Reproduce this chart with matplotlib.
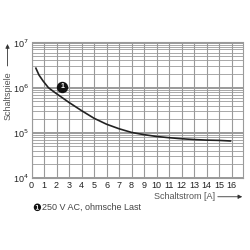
import matplotlib
matplotlib.use('Agg')
import matplotlib.pyplot as plt

plt.rcParams['font.family'] = ['Liberation Sans', 'DejaVu Sans']

# Kurve: Schaltstrom [A] -> Schaltspiele
current = [0.35, 0.6, 0.93, 1.35, 1.87, 3.0, 4.0, 5.0, 6.0, 7.0, 8.0, 9.0,
           10.0, 11.0, 12.0, 13.0, 14.0, 15.0, 15.9]
cycles = [2.7e6, 1.9e6, 1.4e6, 1.0e6, 7.8e5, 4.7e5, 3.1e5, 2.1e5, 1.55e5,
          1.23e5, 1.02e5, 9.1e4, 8.3e4, 7.8e4, 7.4e4, 7.1e4, 6.9e4, 6.8e4,
          6.6e4]

x_ticks = list(range(0, 17))
y_ticks = [1e4, 1e5, 1e6, 1e7]
y_tick_labels = ['10$^4$', '10$^5$', '10$^6$', '10$^7$']

marker_x, marker_y = 2.45, 1.05e6
legend_text = '250 V AC, ohmsche Last'

grid_col = '#9a9a9a'

fig = plt.figure(figsize=(2.5, 2.5), dpi=100)
ax = fig.add_axes([0.126, 0.288, 0.846, 0.542])
ax.set_yscale('log')
ax.set_xlim(0, 16.9)
ax.set_ylim(1e4, 1e7)

ax.set_xticks(x_ticks)
ax.set_xticklabels([str(t) for t in x_ticks], fontsize=6.5, color='#222222')
ax.set_yticks(y_ticks)
ax.set_yticklabels(y_tick_labels, fontsize=6.5, color='#222222')
ax.tick_params(axis='both', length=0, pad=2)
ax.tick_params(axis='y', which='minor', length=0)

ax.grid(True, which='major', axis='x', color=grid_col, lw=0.8)
ax.grid(True, which='major', axis='y', color=grid_col, lw=1.4)
ax.grid(True, which='minor', axis='y', color=grid_col, lw=0.6)
for s in ax.spines.values():
    s.set_color(grid_col)
    s.set_linewidth(0.8)

ax.plot(current, cycles, color='#222222', lw=1.2)

ax.plot(marker_x, marker_y, 'o', color='#111111', ms=7.2, zorder=5)
ax.text(marker_x, marker_y, '1', color='white', fontsize=5, fontweight='bold',
        ha='center', va='center', zorder=6)

# Achsbeschriftungen mit Pfeilen
fig.text(0.033, 0.616, 'Schaltspiele', rotation=90, fontsize=6.5,
         color='#555555', ha='center', va='center')
ax.annotate('', xy=(0.03, 0.835), xytext=(0.03, 0.725),
            xycoords='figure fraction',
            arrowprops=dict(arrowstyle='-|>', color='#333333', lw=0.6,
                            mutation_scale=6))
fig.text(0.738, 0.213, 'Schaltstrom [A]', fontsize=6.5, color='#555555',
         ha='center', va='center')
ax.annotate('', xy=(0.98, 0.213), xytext=(0.86, 0.213),
            xycoords='figure fraction',
            arrowprops=dict(arrowstyle='-|>', color='#333333', lw=0.6,
                            mutation_scale=6))

fig.text(0.13, 0.17, '\u2776', fontsize=7, color='#111111',
         ha='left', va='center', family=['DejaVu Sans'])
fig.text(0.168, 0.17, legend_text, fontsize=6.5, color='#444444',
         ha='left', va='center')

fig.savefig('out.png', dpi=100)
